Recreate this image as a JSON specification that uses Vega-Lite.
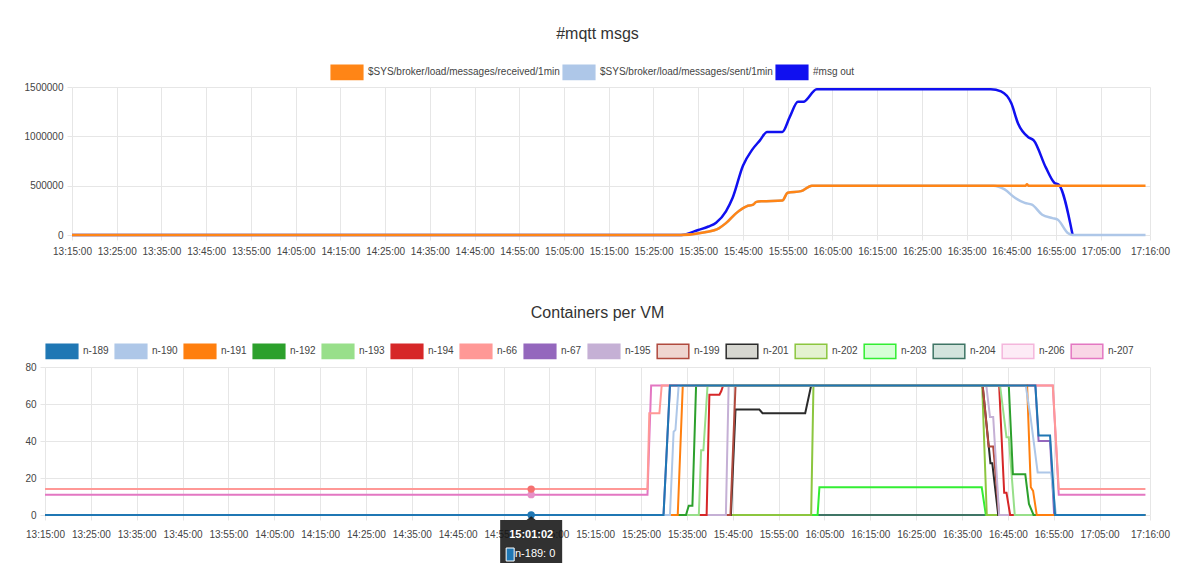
{
"$schema": "https://vega.github.io/schema/vega-lite/v6.json",
"background": "white",
"padding": {"left": 12, "top": 26, "right": 5, "bottom": 5},
"config": {
 "font": "Liberation Sans",
 "view": {"stroke": null},
 "axis": {"domain": false, "grid": true, "gridColor": "#e6e6e6", "tickColor": "#e6e6e6", "tickSize": 5, "labelFontSize": 10, "labelColor": "#444", "labelPadding": 4, "title": null},
 "axisX": {"labelPadding": 6, "labelAngle": 0, "labelOverlap": false, "labelFlush": false},
 "title": {"fontSize": 16, "fontWeight": "normal", "color": "#333", "anchor": "middle", "offset": 13},
 "legend": {"orient": "none", "direction": "horizontal", "title": null, "symbolType": "M-1,-0.45H1V0.45H-1Z", "symbolSize": 1000, "symbolStrokeWidth": 1.5, "labelFontSize": 10, "labelColor": "#444", "labelOffset": 4, "labelLimit": 0, "padding": 0}
},
"spacing": 49,
"resolve": {"scale": {"x": "independent", "y": "independent", "color": "independent"}},
"datasets": {
 "mqtt": [
  {"s": "#msg out", "t": "2020-01-01T13:15:00", "v": 0},
  {"s": "#msg out", "t": "2020-01-01T15:31:12", "v": 0},
  {"s": "#msg out", "t": "2020-01-01T15:35:00", "v": 51000},
  {"s": "#msg out", "t": "2020-01-01T15:37:18", "v": 86000},
  {"s": "#msg out", "t": "2020-01-01T15:39:00", "v": 125000},
  {"s": "#msg out", "t": "2020-01-01T15:41:12", "v": 240000},
  {"s": "#msg out", "t": "2020-01-01T15:42:42", "v": 377000},
  {"s": "#msg out", "t": "2020-01-01T15:45:00", "v": 702000},
  {"s": "#msg out", "t": "2020-01-01T15:47:00", "v": 860000},
  {"s": "#msg out", "t": "2020-01-01T15:48:48", "v": 959000},
  {"s": "#msg out", "t": "2020-01-01T15:50:24", "v": 1045000},
  {"s": "#msg out", "t": "2020-01-01T15:53:48", "v": 1045000},
  {"s": "#msg out", "t": "2020-01-01T15:55:30", "v": 1200000},
  {"s": "#msg out", "t": "2020-01-01T15:57:18", "v": 1350000},
  {"s": "#msg out", "t": "2020-01-01T15:58:30", "v": 1350000},
  {"s": "#msg out", "t": "2020-01-01T16:01:30", "v": 1478000},
  {"s": "#msg out", "t": "2020-01-01T16:15:00", "v": 1478000},
  {"s": "#msg out", "t": "2020-01-01T16:40:24", "v": 1478000},
  {"s": "#msg out", "t": "2020-01-01T16:42:42", "v": 1455000},
  {"s": "#msg out", "t": "2020-01-01T16:45:00", "v": 1335000},
  {"s": "#msg out", "t": "2020-01-01T16:46:30", "v": 1130000},
  {"s": "#msg out", "t": "2020-01-01T16:48:48", "v": 990000},
  {"s": "#msg out", "t": "2020-01-01T16:50:00", "v": 960000},
  {"s": "#msg out", "t": "2020-01-01T16:52:42", "v": 685000},
  {"s": "#msg out", "t": "2020-01-01T16:54:36", "v": 530000},
  {"s": "#msg out", "t": "2020-01-01T16:55:36", "v": 510000},
  {"s": "#msg out", "t": "2020-01-01T16:58:42", "v": 0},
  {"s": "$SYS/broker/load/messages/sent/1min", "t": "2020-01-01T13:15:00", "v": 0},
  {"s": "$SYS/broker/load/messages/sent/1min", "t": "2020-01-01T15:31:00", "v": 0},
  {"s": "$SYS/broker/load/messages/sent/1min", "t": "2020-01-01T15:36:30", "v": 27000},
  {"s": "$SYS/broker/load/messages/sent/1min", "t": "2020-01-01T15:39:36", "v": 68000},
  {"s": "$SYS/broker/load/messages/sent/1min", "t": "2020-01-01T15:41:12", "v": 120000},
  {"s": "$SYS/broker/load/messages/sent/1min", "t": "2020-01-01T15:43:30", "v": 222000},
  {"s": "$SYS/broker/load/messages/sent/1min", "t": "2020-01-01T15:45:48", "v": 291000},
  {"s": "$SYS/broker/load/messages/sent/1min", "t": "2020-01-01T15:47:18", "v": 308000},
  {"s": "$SYS/broker/load/messages/sent/1min", "t": "2020-01-01T15:48:00", "v": 336000},
  {"s": "$SYS/broker/load/messages/sent/1min", "t": "2020-01-01T15:49:12", "v": 342000},
  {"s": "$SYS/broker/load/messages/sent/1min", "t": "2020-01-01T15:53:48", "v": 349000},
  {"s": "$SYS/broker/load/messages/sent/1min", "t": "2020-01-01T15:55:00", "v": 428000},
  {"s": "$SYS/broker/load/messages/sent/1min", "t": "2020-01-01T15:58:00", "v": 445000},
  {"s": "$SYS/broker/load/messages/sent/1min", "t": "2020-01-01T16:00:24", "v": 500000},
  {"s": "$SYS/broker/load/messages/sent/1min", "t": "2020-01-01T16:20:00", "v": 500000},
  {"s": "$SYS/broker/load/messages/sent/1min", "t": "2020-01-01T16:41:00", "v": 500000},
  {"s": "$SYS/broker/load/messages/sent/1min", "t": "2020-01-01T16:43:30", "v": 462000},
  {"s": "$SYS/broker/load/messages/sent/1min", "t": "2020-01-01T16:45:48", "v": 377000},
  {"s": "$SYS/broker/load/messages/sent/1min", "t": "2020-01-01T16:48:00", "v": 325000},
  {"s": "$SYS/broker/load/messages/sent/1min", "t": "2020-01-01T16:49:36", "v": 308000},
  {"s": "$SYS/broker/load/messages/sent/1min", "t": "2020-01-01T16:51:54", "v": 205000},
  {"s": "$SYS/broker/load/messages/sent/1min", "t": "2020-01-01T16:54:12", "v": 171000},
  {"s": "$SYS/broker/load/messages/sent/1min", "t": "2020-01-01T16:55:24", "v": 154000},
  {"s": "$SYS/broker/load/messages/sent/1min", "t": "2020-01-01T16:57:42", "v": 17000},
  {"s": "$SYS/broker/load/messages/sent/1min", "t": "2020-01-01T16:58:42", "v": 0},
  {"s": "$SYS/broker/load/messages/sent/1min", "t": "2020-01-01T17:15:00", "v": 0},
  {"s": "$SYS/broker/load/messages/received/1min", "t": "2020-01-01T13:15:00", "v": 0},
  {"s": "$SYS/broker/load/messages/received/1min", "t": "2020-01-01T15:31:00", "v": 0},
  {"s": "$SYS/broker/load/messages/received/1min", "t": "2020-01-01T15:36:30", "v": 27000},
  {"s": "$SYS/broker/load/messages/received/1min", "t": "2020-01-01T15:39:36", "v": 68000},
  {"s": "$SYS/broker/load/messages/received/1min", "t": "2020-01-01T15:41:12", "v": 120000},
  {"s": "$SYS/broker/load/messages/received/1min", "t": "2020-01-01T15:43:30", "v": 222000},
  {"s": "$SYS/broker/load/messages/received/1min", "t": "2020-01-01T15:45:48", "v": 291000},
  {"s": "$SYS/broker/load/messages/received/1min", "t": "2020-01-01T15:47:18", "v": 308000},
  {"s": "$SYS/broker/load/messages/received/1min", "t": "2020-01-01T15:48:00", "v": 336000},
  {"s": "$SYS/broker/load/messages/received/1min", "t": "2020-01-01T15:49:12", "v": 342000},
  {"s": "$SYS/broker/load/messages/received/1min", "t": "2020-01-01T15:53:48", "v": 349000},
  {"s": "$SYS/broker/load/messages/received/1min", "t": "2020-01-01T15:55:00", "v": 428000},
  {"s": "$SYS/broker/load/messages/received/1min", "t": "2020-01-01T15:58:00", "v": 445000},
  {"s": "$SYS/broker/load/messages/received/1min", "t": "2020-01-01T16:00:24", "v": 500000},
  {"s": "$SYS/broker/load/messages/received/1min", "t": "2020-01-01T16:20:00", "v": 500000},
  {"s": "$SYS/broker/load/messages/received/1min", "t": "2020-01-01T16:48:12", "v": 500000},
  {"s": "$SYS/broker/load/messages/received/1min", "t": "2020-01-01T16:48:30", "v": 515000},
  {"s": "$SYS/broker/load/messages/received/1min", "t": "2020-01-01T16:48:48", "v": 500000},
  {"s": "$SYS/broker/load/messages/received/1min", "t": "2020-01-01T17:00:00", "v": 500000},
  {"s": "$SYS/broker/load/messages/received/1min", "t": "2020-01-01T17:15:00", "v": 500000}
 ],
 "vm": [
  {"s": "n-207", "t": "2020-01-01T13:15:00", "v": 11},
  {"s": "n-207", "t": "2020-01-01T15:26:24", "v": 11},
  {"s": "n-207", "t": "2020-01-01T15:27:12", "v": 70},
  {"s": "n-207", "t": "2020-01-01T16:54:48", "v": 70},
  {"s": "n-207", "t": "2020-01-01T16:56:06", "v": 11},
  {"s": "n-207", "t": "2020-01-01T17:15:00", "v": 11},
  {"s": "n-206", "t": "2020-01-01T13:15:00", "v": 0},
  {"s": "n-206", "t": "2020-01-01T17:15:00", "v": 0},
  {"s": "n-204", "t": "2020-01-01T13:15:00", "v": 0},
  {"s": "n-204", "t": "2020-01-01T17:15:00", "v": 0},
  {"s": "n-203", "t": "2020-01-01T13:15:00", "v": 0},
  {"s": "n-203", "t": "2020-01-01T16:03:30", "v": 0},
  {"s": "n-203", "t": "2020-01-01T16:03:54", "v": 15},
  {"s": "n-203", "t": "2020-01-01T16:39:18", "v": 15},
  {"s": "n-203", "t": "2020-01-01T16:40:12", "v": 0},
  {"s": "n-203", "t": "2020-01-01T17:15:00", "v": 0},
  {"s": "n-202", "t": "2020-01-01T13:15:00", "v": 0},
  {"s": "n-202", "t": "2020-01-01T16:02:06", "v": 0},
  {"s": "n-202", "t": "2020-01-01T16:02:36", "v": 70},
  {"s": "n-202", "t": "2020-01-01T16:39:24", "v": 70},
  {"s": "n-202", "t": "2020-01-01T16:40:24", "v": 0},
  {"s": "n-202", "t": "2020-01-01T17:15:00", "v": 0},
  {"s": "n-201", "t": "2020-01-01T13:15:00", "v": 0},
  {"s": "n-201", "t": "2020-01-01T15:44:36", "v": 0},
  {"s": "n-201", "t": "2020-01-01T15:45:36", "v": 57},
  {"s": "n-201", "t": "2020-01-01T15:50:48", "v": 57},
  {"s": "n-201", "t": "2020-01-01T15:51:30", "v": 55},
  {"s": "n-201", "t": "2020-01-01T16:00:48", "v": 55},
  {"s": "n-201", "t": "2020-01-01T16:02:06", "v": 70},
  {"s": "n-201", "t": "2020-01-01T16:39:30", "v": 70},
  {"s": "n-201", "t": "2020-01-01T16:41:12", "v": 28},
  {"s": "n-201", "t": "2020-01-01T16:41:36", "v": 28},
  {"s": "n-201", "t": "2020-01-01T16:42:54", "v": 0},
  {"s": "n-201", "t": "2020-01-01T17:15:00", "v": 0},
  {"s": "n-199", "t": "2020-01-01T13:15:00", "v": 0},
  {"s": "n-199", "t": "2020-01-01T15:44:30", "v": 0},
  {"s": "n-199", "t": "2020-01-01T15:45:36", "v": 70},
  {"s": "n-199", "t": "2020-01-01T16:39:30", "v": 70},
  {"s": "n-199", "t": "2020-01-01T16:40:48", "v": 37},
  {"s": "n-199", "t": "2020-01-01T16:41:48", "v": 37},
  {"s": "n-199", "t": "2020-01-01T16:43:06", "v": 0},
  {"s": "n-199", "t": "2020-01-01T17:15:00", "v": 0},
  {"s": "n-195", "t": "2020-01-01T13:15:00", "v": 0},
  {"s": "n-195", "t": "2020-01-01T15:43:30", "v": 0},
  {"s": "n-195", "t": "2020-01-01T15:44:06", "v": 70},
  {"s": "n-195", "t": "2020-01-01T16:40:18", "v": 70},
  {"s": "n-195", "t": "2020-01-01T16:41:06", "v": 53},
  {"s": "n-195", "t": "2020-01-01T16:41:48", "v": 53},
  {"s": "n-195", "t": "2020-01-01T16:43:06", "v": 0},
  {"s": "n-195", "t": "2020-01-01T17:15:00", "v": 0},
  {"s": "n-67", "t": "2020-01-01T13:15:00", "v": 0},
  {"s": "n-67", "t": "2020-01-01T15:29:54", "v": 0},
  {"s": "n-67", "t": "2020-01-01T15:31:18", "v": 70},
  {"s": "n-67", "t": "2020-01-01T16:51:00", "v": 70},
  {"s": "n-67", "t": "2020-01-01T16:51:42", "v": 40},
  {"s": "n-67", "t": "2020-01-01T16:54:12", "v": 40},
  {"s": "n-67", "t": "2020-01-01T16:55:06", "v": 0},
  {"s": "n-67", "t": "2020-01-01T17:15:00", "v": 0},
  {"s": "n-66", "t": "2020-01-01T13:15:00", "v": 14},
  {"s": "n-66", "t": "2020-01-01T15:26:24", "v": 14},
  {"s": "n-66", "t": "2020-01-01T15:26:48", "v": 55},
  {"s": "n-66", "t": "2020-01-01T15:29:00", "v": 55},
  {"s": "n-66", "t": "2020-01-01T15:29:30", "v": 70},
  {"s": "n-66", "t": "2020-01-01T16:54:48", "v": 70},
  {"s": "n-66", "t": "2020-01-01T16:56:06", "v": 14},
  {"s": "n-66", "t": "2020-01-01T17:15:00", "v": 14},
  {"s": "n-194", "t": "2020-01-01T13:15:00", "v": 0},
  {"s": "n-194", "t": "2020-01-01T15:39:18", "v": 0},
  {"s": "n-194", "t": "2020-01-01T15:39:54", "v": 65},
  {"s": "n-194", "t": "2020-01-01T15:42:06", "v": 65},
  {"s": "n-194", "t": "2020-01-01T15:42:30", "v": 67},
  {"s": "n-194", "t": "2020-01-01T15:42:54", "v": 70},
  {"s": "n-194", "t": "2020-01-01T16:43:06", "v": 70},
  {"s": "n-194", "t": "2020-01-01T16:44:12", "v": 12},
  {"s": "n-194", "t": "2020-01-01T16:44:42", "v": 12},
  {"s": "n-194", "t": "2020-01-01T16:45:30", "v": 0},
  {"s": "n-194", "t": "2020-01-01T17:15:00", "v": 0},
  {"s": "n-193", "t": "2020-01-01T13:15:00", "v": 0},
  {"s": "n-193", "t": "2020-01-01T15:37:36", "v": 0},
  {"s": "n-193", "t": "2020-01-01T15:38:06", "v": 35},
  {"s": "n-193", "t": "2020-01-01T15:38:36", "v": 35},
  {"s": "n-193", "t": "2020-01-01T15:39:30", "v": 70},
  {"s": "n-193", "t": "2020-01-01T16:43:18", "v": 70},
  {"s": "n-193", "t": "2020-01-01T16:44:42", "v": 42},
  {"s": "n-193", "t": "2020-01-01T16:45:12", "v": 42},
  {"s": "n-193", "t": "2020-01-01T16:46:30", "v": 0},
  {"s": "n-193", "t": "2020-01-01T17:15:00", "v": 0},
  {"s": "n-192", "t": "2020-01-01T13:15:00", "v": 0},
  {"s": "n-192", "t": "2020-01-01T15:34:48", "v": 0},
  {"s": "n-192", "t": "2020-01-01T15:35:24", "v": 5},
  {"s": "n-192", "t": "2020-01-01T15:36:12", "v": 5},
  {"s": "n-192", "t": "2020-01-01T15:37:00", "v": 70},
  {"s": "n-192", "t": "2020-01-01T16:45:12", "v": 70},
  {"s": "n-192", "t": "2020-01-01T16:46:06", "v": 22},
  {"s": "n-192", "t": "2020-01-01T16:48:48", "v": 22},
  {"s": "n-192", "t": "2020-01-01T16:49:36", "v": 6},
  {"s": "n-192", "t": "2020-01-01T16:50:36", "v": 0},
  {"s": "n-192", "t": "2020-01-01T17:15:00", "v": 0},
  {"s": "n-191", "t": "2020-01-01T13:15:00", "v": 0},
  {"s": "n-191", "t": "2020-01-01T15:33:00", "v": 0},
  {"s": "n-191", "t": "2020-01-01T15:34:06", "v": 70},
  {"s": "n-191", "t": "2020-01-01T16:49:12", "v": 70},
  {"s": "n-191", "t": "2020-01-01T16:50:00", "v": 15},
  {"s": "n-191", "t": "2020-01-01T16:50:30", "v": 13},
  {"s": "n-191", "t": "2020-01-01T16:51:18", "v": 0},
  {"s": "n-191", "t": "2020-01-01T17:15:00", "v": 0},
  {"s": "n-190", "t": "2020-01-01T13:15:00", "v": 0},
  {"s": "n-190", "t": "2020-01-01T15:31:18", "v": 0},
  {"s": "n-190", "t": "2020-01-01T15:32:06", "v": 45},
  {"s": "n-190", "t": "2020-01-01T15:32:30", "v": 46},
  {"s": "n-190", "t": "2020-01-01T15:33:12", "v": 70},
  {"s": "n-190", "t": "2020-01-01T16:48:54", "v": 70},
  {"s": "n-190", "t": "2020-01-01T16:50:00", "v": 52},
  {"s": "n-190", "t": "2020-01-01T16:51:30", "v": 23},
  {"s": "n-190", "t": "2020-01-01T16:54:24", "v": 23},
  {"s": "n-190", "t": "2020-01-01T16:55:30", "v": 0},
  {"s": "n-190", "t": "2020-01-01T17:15:00", "v": 0},
  {"s": "n-189", "t": "2020-01-01T13:15:00", "v": 0},
  {"s": "n-189", "t": "2020-01-01T15:29:54", "v": 0},
  {"s": "n-189", "t": "2020-01-01T15:31:18", "v": 70},
  {"s": "n-189", "t": "2020-01-01T16:51:00", "v": 70},
  {"s": "n-189", "t": "2020-01-01T16:51:42", "v": 43},
  {"s": "n-189", "t": "2020-01-01T16:54:12", "v": 43},
  {"s": "n-189", "t": "2020-01-01T16:55:18", "v": 0},
  {"s": "n-189", "t": "2020-01-01T17:15:00", "v": 0}
 ],
 "hover": [
  {"s": "n-207", "t": "2020-01-01T15:01:02", "v": 11},
  {"s": "n-66", "t": "2020-01-01T15:01:02", "v": 14},
  {"s": "n-189", "t": "2020-01-01T15:01:02", "v": 0}
 ],
 "tip": [
  {"t": "2020-01-01T15:01:02", "v": 0, "label": "n-189: 0"}
 ]
},
"vconcat": [
 {
  "title": {"text": "#mqtt msgs", "offset": 13},
  "width": 1105,
  "height": 148,
  "data": {"name": "mqtt"},
  "mark": {"type": "line", "strokeWidth": 2.5, "interpolate": "monotone"},
  "encoding": {
   "x": {"field": "t", "type": "temporal",
    "scale": {"rangeMin": 27, "rangeMax": 1105, "domain": [{"year": 2020, "month": 1, "date": 1, "hours": 13, "minutes": 15}, {"year": 2020, "month": 1, "date": 1, "hours": 17, "minutes": 16}]},
    "axis": {"format": "%H:%M:%S", "values": [
     {"year": 2020, "month": 1, "date": 1, "hours": 13, "minutes": 15},
     {"year": 2020, "month": 1, "date": 1, "hours": 13, "minutes": 25},
     {"year": 2020, "month": 1, "date": 1, "hours": 13, "minutes": 35},
     {"year": 2020, "month": 1, "date": 1, "hours": 13, "minutes": 45},
     {"year": 2020, "month": 1, "date": 1, "hours": 13, "minutes": 55},
     {"year": 2020, "month": 1, "date": 1, "hours": 14, "minutes": 5},
     {"year": 2020, "month": 1, "date": 1, "hours": 14, "minutes": 15},
     {"year": 2020, "month": 1, "date": 1, "hours": 14, "minutes": 25},
     {"year": 2020, "month": 1, "date": 1, "hours": 14, "minutes": 35},
     {"year": 2020, "month": 1, "date": 1, "hours": 14, "minutes": 45},
     {"year": 2020, "month": 1, "date": 1, "hours": 14, "minutes": 55},
     {"year": 2020, "month": 1, "date": 1, "hours": 15, "minutes": 5},
     {"year": 2020, "month": 1, "date": 1, "hours": 15, "minutes": 15},
     {"year": 2020, "month": 1, "date": 1, "hours": 15, "minutes": 25},
     {"year": 2020, "month": 1, "date": 1, "hours": 15, "minutes": 35},
     {"year": 2020, "month": 1, "date": 1, "hours": 15, "minutes": 45},
     {"year": 2020, "month": 1, "date": 1, "hours": 15, "minutes": 55},
     {"year": 2020, "month": 1, "date": 1, "hours": 16, "minutes": 5},
     {"year": 2020, "month": 1, "date": 1, "hours": 16, "minutes": 15},
     {"year": 2020, "month": 1, "date": 1, "hours": 16, "minutes": 25},
     {"year": 2020, "month": 1, "date": 1, "hours": 16, "minutes": 35},
     {"year": 2020, "month": 1, "date": 1, "hours": 16, "minutes": 45},
     {"year": 2020, "month": 1, "date": 1, "hours": 16, "minutes": 55},
     {"year": 2020, "month": 1, "date": 1, "hours": 17, "minutes": 5},
     {"year": 2020, "month": 1, "date": 1, "hours": 17, "minutes": 16}
    ]}},
   "y": {"field": "v", "type": "quantitative", "scale": {"domain": [0, 1500000], "nice": false},
    "axis": {"values": [0, 500000, 1000000, 1500000], "format": "d", "offset": -27, "minExtent": 33, "maxExtent": 33}},
   "color": {"field": "s", "type": "nominal",
    "scale": {"domain": ["$SYS/broker/load/messages/received/1min", "$SYS/broker/load/messages/sent/1min", "#msg out"], "range": ["#ff8516", "#aec7e8", "#1010f0"]},
    "legend": {"legendX": 285, "legendY": -32, "columns": 3, "columnPadding": 0,
     "encode": {"symbols": {"update": {"fill": {"signal": "({'$SYS/broker/load/messages/received/1min': '#ff8516', '$SYS/broker/load/messages/sent/1min': '#aec7e8', '#msg out': '#1010f0'})[datum.value]"}, "fillOpacity": {"value": 1}}}}}
   }
  }
 },
 {
  "title": {"text": "Containers per VM", "offset": 13},
  "width": 1105,
  "height": 148,
  "encoding": {
   "x": {"field": "t", "type": "temporal",
    "scale": {"domain": [{"year": 2020, "month": 1, "date": 1, "hours": 13, "minutes": 15}, {"year": 2020, "month": 1, "date": 1, "hours": 17, "minutes": 16}]},
    "axis": {"format": "%H:%M:%S", "labelPadding": 9, "values": [
     {"year": 2020, "month": 1, "date": 1, "hours": 13, "minutes": 15},
     {"year": 2020, "month": 1, "date": 1, "hours": 13, "minutes": 25},
     {"year": 2020, "month": 1, "date": 1, "hours": 13, "minutes": 35},
     {"year": 2020, "month": 1, "date": 1, "hours": 13, "minutes": 45},
     {"year": 2020, "month": 1, "date": 1, "hours": 13, "minutes": 55},
     {"year": 2020, "month": 1, "date": 1, "hours": 14, "minutes": 5},
     {"year": 2020, "month": 1, "date": 1, "hours": 14, "minutes": 15},
     {"year": 2020, "month": 1, "date": 1, "hours": 14, "minutes": 25},
     {"year": 2020, "month": 1, "date": 1, "hours": 14, "minutes": 35},
     {"year": 2020, "month": 1, "date": 1, "hours": 14, "minutes": 45},
     {"year": 2020, "month": 1, "date": 1, "hours": 14, "minutes": 55},
     {"year": 2020, "month": 1, "date": 1, "hours": 15, "minutes": 5},
     {"year": 2020, "month": 1, "date": 1, "hours": 15, "minutes": 15},
     {"year": 2020, "month": 1, "date": 1, "hours": 15, "minutes": 25},
     {"year": 2020, "month": 1, "date": 1, "hours": 15, "minutes": 35},
     {"year": 2020, "month": 1, "date": 1, "hours": 15, "minutes": 45},
     {"year": 2020, "month": 1, "date": 1, "hours": 15, "minutes": 55},
     {"year": 2020, "month": 1, "date": 1, "hours": 16, "minutes": 5},
     {"year": 2020, "month": 1, "date": 1, "hours": 16, "minutes": 15},
     {"year": 2020, "month": 1, "date": 1, "hours": 16, "minutes": 25},
     {"year": 2020, "month": 1, "date": 1, "hours": 16, "minutes": 35},
     {"year": 2020, "month": 1, "date": 1, "hours": 16, "minutes": 45},
     {"year": 2020, "month": 1, "date": 1, "hours": 16, "minutes": 55},
     {"year": 2020, "month": 1, "date": 1, "hours": 17, "minutes": 5},
     {"year": 2020, "month": 1, "date": 1, "hours": 17, "minutes": 16}
    ]}},
   "y": {"field": "v", "type": "quantitative", "scale": {"domain": [0, 80], "nice": false},
    "axis": {"values": [0, 20, 40, 60, 80], "minExtent": 33, "maxExtent": 33}}
  },
  "layer": [
   {
    "data": {"name": "vm"},
    "mark": {"type": "line", "strokeWidth": 2},
    "encoding": {
     "color": {"field": "s", "type": "nominal",
      "scale": {"domain": ["n-189", "n-190", "n-191", "n-192", "n-193", "n-194", "n-66", "n-67", "n-195", "n-199", "n-201", "n-202", "n-203", "n-204", "n-206", "n-207"],
       "range": ["#1f77b4", "#aec7e8", "#ff7f0e", "#2ca02c", "#98df8a", "#d62728", "#ff9896", "#9467bd", "#c5b0d5", "#b04a3e", "#2b2b2b", "#8cc63f", "#33ee33", "#3f7565", "#f4b6dc", "#e377c2"]},
      "legend": {"legendX": 0, "legendY": -33, "columns": 16, "columnPadding": 3,
       "encode": {"symbols": {"update": {"fill": {"signal": "({'n-189':'#1f77b4','n-190':'#aec7e8','n-191':'#ff7f0e','n-192':'#2ca02c','n-193':'#98df8a','n-194':'#d62728','n-66':'#ff9896','n-67':'#9467bd','n-195':'#c5b0d5','n-199':'#efd5d0','n-201':'#d6d6d0','n-202':'#e4f2d0','n-203':'#d6ffd6','n-204':'#d3e4dd','n-206':'#fdebf6','n-207':'#f9d6e6'})[datum.value]"}, "fillOpacity": {"value": 1}}}}}
     }
    }
   },
   {
    "data": {"name": "hover"},
    "mark": {"type": "point", "filled": true, "size": 55, "opacity": 1},
    "encoding": {"fill": {"field": "s", "type": "nominal", "legend": null,
     "scale": {"domain": ["n-189", "n-66", "n-207"], "range": ["#1f77b4", "#f47070", "#e690c8"]}}}
   },
   {
    "data": {"name": "tip"},
    "mark": {"type": "point", "shape": "M-1,0.16H-0.15L0,0.04L0.15,0.16H1V1.55H-1Z", "size": 3844, "filled": true, "color": "#151515", "opacity": 0.88}
   },
   {
    "data": {"name": "tip"},
    "mark": {"type": "point", "shape": "M-2.5,3.3H-1.7V4.6H-2.5Z", "size": 400, "filled": true, "color": "#1f77b4", "stroke": "white", "strokeWidth": 1, "opacity": 1}
   },
   {
    "data": {"name": "tip"},
    "mark": {"type": "text", "dy": 20, "color": "white", "fontWeight": "bold", "fontSize": 11},
    "encoding": {"text": {"field": "t", "type": "temporal", "format": "%H:%M:%S"}}
   },
   {
    "data": {"name": "tip"},
    "mark": {"type": "text", "dy": 39, "dx": 4, "color": "white", "fontSize": 11},
    "encoding": {"text": {"field": "label", "type": "nominal"}}
   }
  ]
 }
]
}
